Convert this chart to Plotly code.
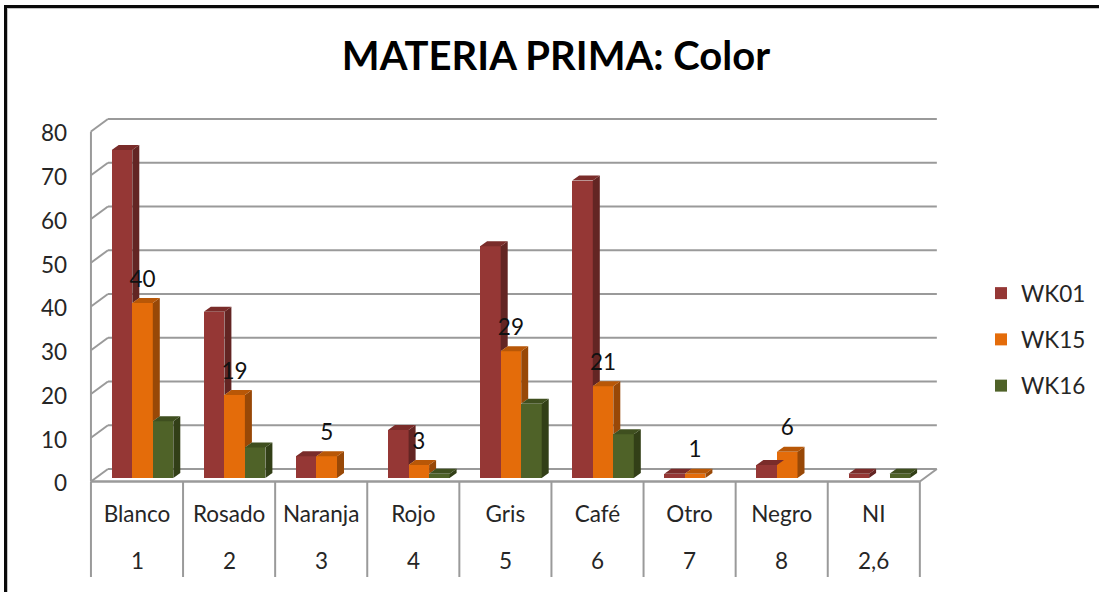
import plotly.graph_objects as go

# ---- data -----------------------------------------------------------------
categories = ["Blanco", "Rosado", "Naranja", "Rojo", "Gris", "Café", "Otro", "Negro", "NI"]
codes = ["1", "2", "3", "4", "5", "6", "7", "8", "2,6"]
wk01 = [75, 38, 5, 11, 53, 68, 1, 3, 1]
wk15 = [40, 19, 5, 3, 29, 21, 1, 6, None]
wk16 = [13, 7, None, 1, 17, 10, None, None, 1]
y_ticks = [0, 10, 20, 30, 40, 50, 60, 70, 80]

# ---- styling / geometry ---------------------------------------------------
W, H = 1099, 592
PX_X, PX_Y = 92.1, 4.375          # pixels per category / per value unit
X0_PX, Y0_PX = 137, 481.5         # pixel position of first category / value 0
FONT = "Lato"
GRID = "#9a9a9a"
TXT = "#262626"
FS = 22.5
series = [
    ("WK01", wk01, "#953735", "#632523", "#7a2c2a", -15),
    ("WK15", wk15, "#E46C0A", "#984807", "#b85707", 5.5),
    ("WK16", wk16, "#4F6228", "#323f17", "#3f4f1f", 26),
]
BAR_W = 20.6 / PX_X
DX, DY = 7 / PX_X, 5 / PX_Y       # bar depth
WX, WY = 17 / PX_X, 12.5 / PX_Y   # wall depth
BASE = 3.5 / PX_Y                 # bars stand slightly behind the front edge
LABEL_GAP = 22 / PX_Y

fig = go.Figure()

# bars (front faces)
n = len(categories)
for name, vals, front, side, top, off in series:
    fig.add_trace(go.Bar(
        x=[i + off / PX_X for i in range(n)], y=vals, base=BASE, width=BAR_W,
        name=name, legendgroup=name, marker=dict(color=front, line=dict(width=0)),
        customdata=categories, hovertemplate="%{customdata}: %{y}<extra>" + name + "</extra>",
    ))

# depth faces derived from the values
for s, (name, vals, front, side, top, off) in enumerate(series):
    next_vals = series[s + 1][1] if s + 1 < len(series) else [None] * n
    sx, sy, tx, ty = [], [], [], []
    for i, v in enumerate(vals):
        if v is None:
            continue
        xl = i + off / PX_X - BAR_W / 2
        xr = xl + BAR_W
        yt = BASE + v
        low = BASE + (next_vals[i] or 0)
        if low < yt:
            sx += [xr, xr, xr + DX, xr + DX, xr, None]
            sy += [low, yt, yt + DY, low + DY, low, None]
        tx += [xl, xr, xr + DX, xl + DX, xl, None]
        ty += [yt, yt, yt + DY, yt + DY, yt, None]
    for xs, ys, col in ((sx, sy, side), (tx, ty, top)):
        fig.add_trace(go.Scatter(x=xs, y=ys, mode="lines", fill="toself", fillcolor=col,
                                 line=dict(width=0), showlegend=False, hoverinfo="skip"))

# WK15 value labels
lab = [(i + series[1][5] / PX_X, BASE + v + LABEL_GAP, str(v)) for i, v in enumerate(wk15) if v is not None]
fig.add_trace(go.Scatter(x=[a[0] for a in lab], y=[a[1] for a in lab], text=[a[2] for a in lab],
                         mode="text", textposition="middle center",
                         textfont=dict(family=FONT, size=FS, color="#111111"),
                         showlegend=False, hoverinfo="skip"))

# walls, floor, dividers (behind the bars)
shapes = []
def seg(x0, y0, x1, y1, width=2, color=GRID):
    shapes.append(dict(type="line", xref="x", yref="y", x0=x0, y0=y0, x1=x1, y1=y1,
                       layer="below", line=dict(color=color, width=width)))

x_left, x_right = -0.5, n - 0.5
seg(x_left, 0, x_left, y_ticks[-1])
for t in y_ticks:
    seg(x_left, t, x_left + WX, t + WY)
    seg(x_left + WX, t + WY, x_right + WX, t + WY)
seg(x_left, 0, x_right, 0, width=2.5)
seg(x_right, 0, x_right + WX, WY)
for i in range(n + 1):
    seg(i - 0.5, 0, i - 0.5, -95.5 / PX_Y)

# slide frame (paper coordinates)
def frame(x0, y0, x1, y1, col):
    shapes.append(dict(type="rect", xref="paper", yref="paper", x0=x0 / W, x1=x1 / W,
                       y0=1 - y0 / H, y1=1 - y1 / H, fillcolor=col, line=dict(width=0), layer="above"))
frame(4, 5, W, 8, "#0a0a0a")
frame(4, 8, W, 9, "#c4c4c4")
frame(4, 5, 7, H, "#0a0a0a")
frame(7, 9, 8, H, "#c4c4c4")

annotations = [dict(x=i, y=-79 / PX_Y, xref="x", yref="y", text=c, showarrow=False,
                    xanchor="center", yanchor="middle",
                    font=dict(family=FONT, size=FS, color=TXT)) for i, c in enumerate(codes)]

fig.update_layout(
    width=W, height=H, margin=dict(l=0, r=0, t=0, b=0),
    paper_bgcolor="white", plot_bgcolor="rgba(0,0,0,0)",
    barmode="overlay", bargap=0, shapes=shapes, annotations=annotations,
    title=dict(text="<b>MATERIA PRIMA: Color</b>", x=556 / W, xref="paper", xanchor="center",
               y=1 - 56 / H, yref="paper", yanchor="middle",
               font=dict(family=FONT, size=40, color="#000000")),
    legend=dict(x=981 / W, xanchor="left", y=1 - 272 / H, yanchor="top", tracegroupgap=14,
                bgcolor="rgba(0,0,0,0)", font=dict(family=FONT, size=FS, color=TXT),
                traceorder="grouped"),
    xaxis=dict(range=[(0 - X0_PX) / PX_X, (W - X0_PX) / PX_X], domain=[0, 1],
               anchor="free", position=1 - Y0_PX / H,
               tickmode="array", tickvals=list(range(n)), ticktext=categories,
               tickangle=0, ticks="", showgrid=False, zeroline=False, showline=False,
               ticklabelstandoff=17, tickfont=dict(family=FONT, size=FS, color=TXT)),
    yaxis=dict(range=[(Y0_PX - H) / PX_Y, Y0_PX / PX_Y], domain=[0, 1],
               anchor="free", position=91 / W,
               tickmode="array", tickvals=y_ticks, ticks="", showgrid=False, zeroline=False,
               showline=False, ticklabelstandoff=24, ticklabelshift=2,
               tickfont=dict(family=FONT, size=FS, color=TXT)),
    hovermode="closest",
)

fig.write_html("out.html", config={"displayModeBar": False},
               post_script="document.body.style.margin='0';")
